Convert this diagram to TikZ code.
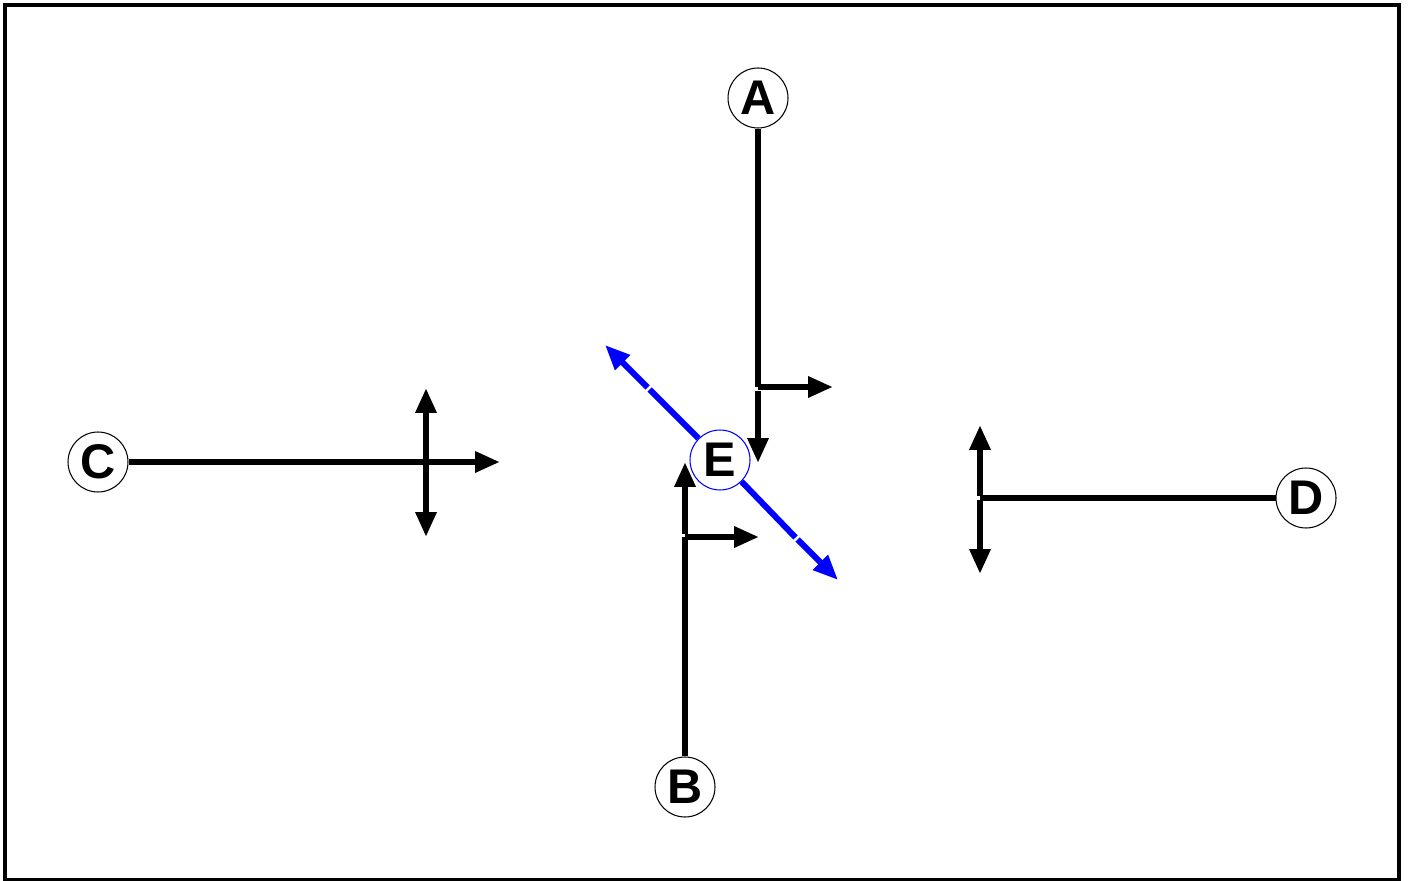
\documentclass[tikz,border=0pt]{standalone}
\usepackage{fontspec}
\setmainfont{Liberation Sans}
\usetikzlibrary{arrows.meta}

\tikzset{
  letter/.style={circle,draw,line width=0.6pt,fill=white,minimum size=1.2cm,
    inner sep=0pt,font=\fontsize{27.7}{30}\selectfont\bfseries},
  wire/.style={line width=0.125cm},
  bwire/.style={line width=0.12cm,blue},
  tip/.style={-{Triangle[length=0.5cm,width=0.4cm]}},
  twotip/.style={{Triangle[length=0.5cm,width=0.4cm]}-{Triangle[length=0.5cm,width=0.4cm]}}
}

\begin{document}
\begin{tikzpicture}[x=0.02cm,y=-0.02cm]

\useasboundingbox (0,0) rectangle (1408,881);

% Frame
\draw[line width=0.08cm] (5,5) rectangle (1398.5,879.5);

% Letters
\node[letter] (A) at (758,98) {A};
\node[letter] (B) at (685,787) {B};
\node[letter] (C) at (98,462) {C};
\node[letter] (D) at (1306,498) {D};
\node[letter,draw=blue] (E) at (720,460) {E};

% Branch from A
\coordinate (a1) at (758,387);
\coordinate (a2) at (833,387);
\coordinate (a3) at (758,391);
\coordinate (a4) at (758,463);
\draw[wire] (A) -- (a1);
\draw[wire,tip] (a1) -- (a2);
\draw[wire,tip] (a3) -- (a4);

% Branch from B
\coordinate (b1) at (685,537);
\coordinate (b2) at (759,537);
\coordinate (b3) at (685,534);
\coordinate (b4) at (685,462);
\draw[wire] (B) -- (b1);
\draw[wire,tip] (b1) -- (b2);
\draw[wire,tip] (b3) -- (b4);

% Branch from C
\coordinate (c1) at (500,462);
\coordinate (c2) at (426,388);
\coordinate (c3) at (426,537);
\draw[wire,tip] (C) -- (c1);
\draw[wire,twotip] (c2) -- (c3);

% Branch from D
\coordinate (d1) at (980,498);
\coordinate (d2) at (980,496);
\coordinate (d3) at (980,425);
\coordinate (d4) at (980,500);
\coordinate (d5) at (980,574);
\draw[wire] (D) -- (d1);
\draw[wire,tip] (d2) -- (d3);
\draw[wire,tip] (d4) -- (d5);

% Blue diagonal through E
\coordinate (e1) at (649.5,389.5);
\coordinate (e2) at (647.5,387.5);
\coordinate (e3) at (605,345);
\coordinate (e4) at (795.5,537.5);
\coordinate (e5) at (797.5,539.5);
\coordinate (e6) at (838,580);
\draw[bwire] (E.135) -- (e1);
\draw[bwire,tip] (e2) -- (e3);
\draw[bwire] (E.-45) -- (e4);
\draw[bwire,tip] (e5) -- (e6);

\end{tikzpicture}
\end{document}
